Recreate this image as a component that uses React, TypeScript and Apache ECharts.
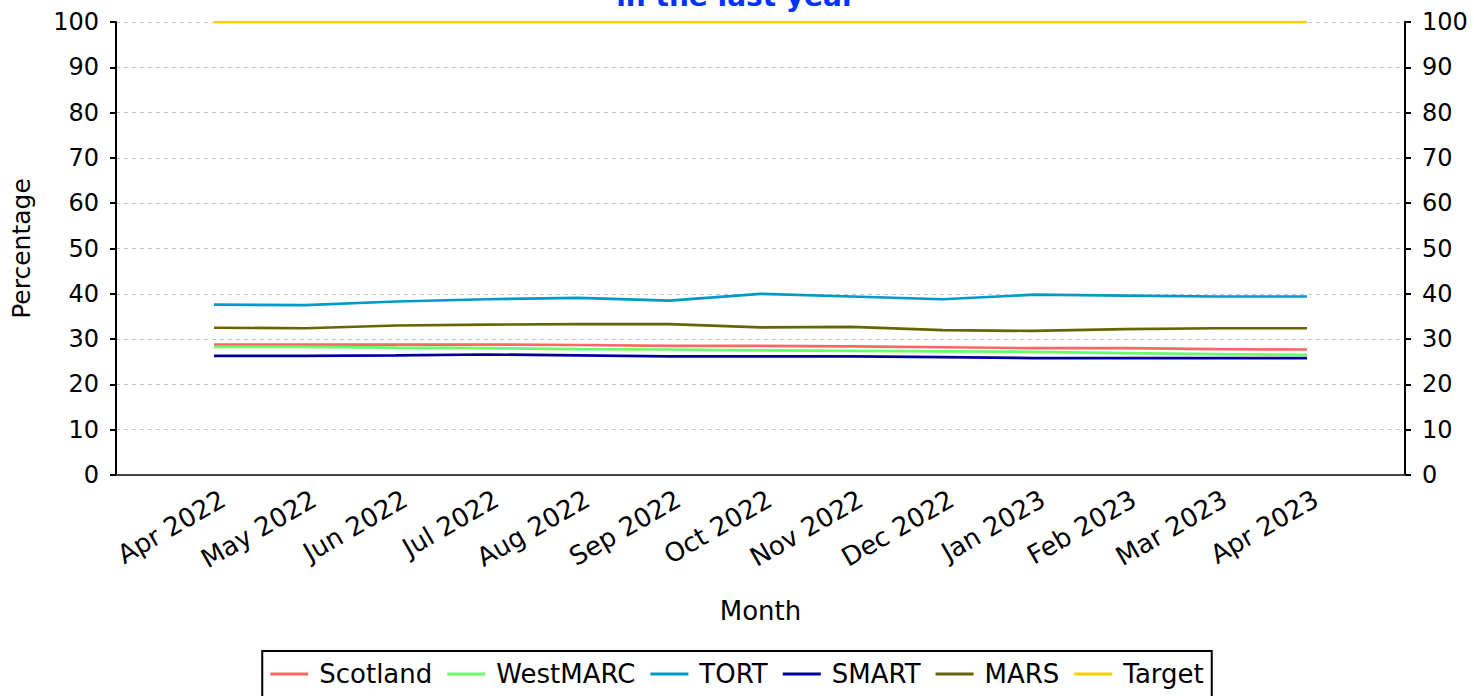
import React, { useEffect, useRef } from "react";
import * as echarts from "echarts";

const months = [
  "Apr 2022", "May 2022", "Jun 2022", "Jul 2022", "Aug 2022", "Sep 2022", "Oct 2022",
  "Nov 2022", "Dec 2022", "Jan 2023", "Feb 2023", "Mar 2023", "Apr 2023",
];
const scotland = [28.8, 28.8, 28.8, 28.8, 28.7, 28.5, 28.5, 28.4, 28.2, 28.0, 28.0, 27.8, 27.7];
const westmarc = [28.3, 28.3, 28.1, 28.0, 27.8, 27.7, 27.5, 27.4, 27.3, 27.2, 26.9, 26.7, 26.5];
const tort = [37.6, 37.5, 38.3, 38.8, 39.1, 38.5, 40.0, 39.4, 38.8, 39.8, 39.6, 39.4, 39.4];
const smart = [26.3, 26.3, 26.4, 26.6, 26.4, 26.2, 26.2, 26.2, 26.0, 25.8, 25.8, 25.8, 25.8];
const mars = [32.5, 32.4, 33.0, 33.2, 33.3, 33.3, 32.6, 32.7, 32.0, 31.8, 32.2, 32.4, 32.4];
const target = [100, 100, 100, 100, 100, 100, 100, 100, 100, 100, 100, 100, 100];

const seriesNames = ["Scotland", "WestMARC", "TORT", "SMART", "MARS", "Target"];
const seriesColors = ["#ff6666", "#66ff66", "#0099cc", "#000099", "#666600", "#ffcc00"];
const seriesData = [scotland, westmarc, tort, smart, mars, target];

const FONT = "DejaVu Sans";

export default function App() {
  const ref = useRef<HTMLDivElement>(null);
  useEffect(() => {
    if (!ref.current) return;
    const chart = echarts.init(ref.current, undefined, { renderer: "svg" });
    const yAxisCommon = {
      type: "value",
      gridIndex: 0,
      min: 0,
      max: 100,
      interval: 10,
      axisLine: { show: true, lineStyle: { color: "#000", width: 2 } },
      axisTick: { show: true, inside: false, length: 6, lineStyle: { color: "#000", width: 2 } },
      axisLabel: { fontSize: 24, color: "#000", fontFamily: FONT, margin: 17 },
      splitLine: { show: true, lineStyle: { color: "#c4c4c4", type: [4, 4], width: 1 } },
    };
    chart.setOption({
      animation: false,
      backgroundColor: "#fff",
      graphic: [
        {
          type: "text",
          x: 736,
          y: 10,
          style: {
            text: "in the last year",
            fill: "#0033ff",
            font: `bold 28px ${FONT}`,
            textAlign: "center",
            textVerticalAlign: "bottom",
          },
        },
      ],
      grid: [
        { left: 116, right: 69, top: 22, bottom: 221, containLabel: false },
        { left: 214, right: 167, top: 22, bottom: 221, containLabel: false },
        { left: 223, right: 158, top: 22, bottom: 221, containLabel: false },
      ],
      xAxis: [
        {
          type: "value",
          gridIndex: 0,
          min: 0,
          max: 1,
          axisLine: { show: true, onZero: false, lineStyle: { color: "#444", width: 2 } },
          axisTick: { show: false },
          axisLabel: { show: false },
          splitLine: { show: false },
          name: "Month",
          nameLocation: "middle",
          nameGap: 123,
          nameTextStyle: { fontSize: 26, color: "#000", fontFamily: FONT },
        },
        {
          type: "category",
          gridIndex: 1,
          data: months,
          boundaryGap: false,
          axisLine: { show: false },
          axisTick: { show: false },
          splitLine: { show: false },
          axisLabel: { show: false },
        },
        {
          type: "category",
          gridIndex: 2,
          data: months,
          boundaryGap: false,
          axisLine: { show: false },
          axisTick: { show: false },
          splitLine: { show: false },
          axisLabel: {
            rotate: 30,
            fontSize: 26,
            color: "#000",
            fontFamily: FONT,
            margin: 22,
            interval: 0,
          },
        },
      ],
      yAxis: [
        {
          ...yAxisCommon,
          position: "left",
          name: "Percentage",
          nameLocation: "middle",
          nameGap: 82,
          nameTextStyle: { fontSize: 25, color: "#000", fontFamily: FONT },
        },
        { ...yAxisCommon, position: "right", splitLine: { show: false } },
        { type: "value", gridIndex: 1, min: 0, max: 100, show: false },
        { type: "value", gridIndex: 2, min: 0, max: 100, show: false },
      ],
      legend: {
        data: seriesNames,
        left: "center",
        top: 651,
        orient: "horizontal",
        borderColor: "#000",
        borderWidth: 2,
        padding: [10, 8, 14, 8],
        itemWidth: 38,
        itemHeight: 3,
        itemGap: 15,
        icon: "rect",
        textStyle: { fontSize: 26, color: "#000", fontFamily: FONT, padding: [0, 0, 0, 6] },
      },
      series: seriesNames.map((name, i) => ({
        name,
        type: "line",
        xAxisIndex: 1,
        yAxisIndex: 2,
        data: seriesData[i],
        showSymbol: false,
        symbol: "none",
        lineStyle: { color: seriesColors[i], width: 2.7 },
        itemStyle: { color: seriesColors[i] },
        z: 3,
      })),
    });
    return () => chart.dispose();
  }, []);
  return (
    <div
      ref={ref}
      style={{ position: "absolute", left: 0, top: 0, width: 1474, height: 696 }}
    />
  );
}
